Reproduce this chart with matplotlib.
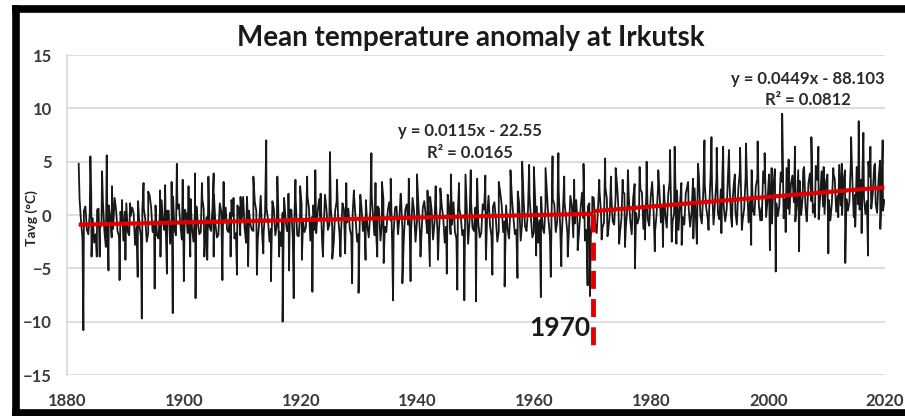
import numpy as np
import matplotlib
matplotlib.use("Agg")
import matplotlib.pyplot as plt
from matplotlib.lines import Line2D

# ---------------- data ----------------
core_start = 1882
# "core band" values, two per year, 1882..2019
core_vals = [
    1.5, -2.2, 0.8, -1.8, 1.9, -2.6, 0.5, -1.2, 1.2, -3.0, 0.9, -2.1, 1.6, -1.5, 0.3, -2.4, 1.1, -1.9, 0.7, -2.8,
    1.3, -2.0, 0.6, -2.5, 1.8, -1.6, 0.9, -2.2, 1.4, -1.4, 0.4, -2.7, 1.7, -1.9, 1.0, -2.3, 0.5, -1.7, 1.5, -2.5,
    0.8, -1.8, 1.6, -2.4, 0.6, -1.5, 1.9, -2.1, 1.1, -2.8, 0.7, -1.6, 1.4, -2.2, 0.9, -1.9, 1.7, -2.6, 0.4, -1.4,
    1.2, -2.3, 1.8, -1.7, 0.6, -2.5, 1.3, -1.9, 0.9, -2.9, 1.6, -1.5, 0.5, -2.2, 1.4, -2.0, 1.0, -1.6, 1.8, -2.4,
    0.9, -1.7, 1.5, -2.3, 1.9, -1.4, 0.7, -2.6, 1.3, -1.8, 1.1, -2.2, 0.6, -1.9, 1.7, -2.5, 1.0, -1.5, 1.4, -2.1,
    1.8, -1.9, 0.8, -2.4, 1.5, -1.6, 1.2, -2.7, 0.7, -1.8, 1.9, -2.2, 1.0, -1.5, 1.6, -2.5, 0.9, -2.0, 1.3, -1.7,
    1.7, -2.3, 1.1, -1.6, 0.8, -2.6, 1.9, -1.8, 1.2, -2.2, 0.6, -1.9, 1.6, -2.7, 1.3, -1.5, 2.0, -2.1, 1.0, -1.8,
    1.8, -2.0, 1.2, -2.5, 2.1, -1.6, 0.9, -2.2, 1.6, -1.8, 2.2, -2.4, 1.4, -1.5, 1.9, -2.1, 1.1, -2.6, 1.7, -1.7,
    2.0, -2.0, 1.5, -1.6, 2.3, -2.3, 1.2, -1.8, 1.8, -2.1, 1.4, -1.5, 2.1, -2.4, 0.8, -2.0, 1.6, -1.7, 2.2, -1.2,
    2.6, -1.4, 1.9, -0.9, 2.8, -1.6, 2.2, -1.1, 1.7, -1.8, 2.9, -0.8, 2.4, -1.3, 2.0, -1.0, 3.1, -1.5, 2.5, -0.7,
    2.8, -1.2, 3.2, -0.6, 2.3, -1.4, 3.0, -0.9, 2.7, -1.1, 3.4, -0.5, 3.6, -0.8, 2.9, -0.3, 3.8, -0.9, 3.3, -0.4,
    3.5, -0.6, 3.9, -0.2, 3.1, -0.9, 4.0, -0.4, 3.6, -0.7, 4.2, 0.0, 3.4, -0.5, 4.1, -0.2, 3.8, -0.8, 4.3, -0.1,
    4.0, -0.3, 4.4, 0.1, 3.7, -0.6, 4.2, 0.0, 4.5, -0.2, 3.9, 0.2, 4.6, -0.4, 4.1, 0.1, 3.8, -0.5, 4.4, 0.3,
    4.7, 0.0, 4.2, 0.4, 4.9, -0.2, 4.5, 0.5, 4.3, 0.1, 5.0, 0.6, 4.6, 0.2, 5.1, 0.4,
]
# second set of core-band values, two per year, offset within the year
core2_vals = [
    -0.6, 0.4, -1.4, 0.2, -0.3, -1.8, 0.6, -0.9, -1.5, 0.1, -0.2, -1.3, 0.5, -2.0, -0.8, 0.3, -1.6, -0.1, 0.2, -1.1,
    -1.0, 0.5, -0.4, -1.7, 0.7, -0.6, -1.9, 0.2, -0.5, -1.2, 0.4, -0.3, -1.4, 0.6, -0.9, -1.8, 0.1, -0.4, -1.3, 0.3,
    -0.7, -1.6, 0.5, -0.2, -1.1, 0.6, -0.8, -1.9, 0.3, -0.5, -1.4, 0.2, -0.1, -1.7, 0.7, -0.6, -1.2, 0.4, -0.9, -1.5,
    0.4, -0.7, -1.8, 0.3, -0.4, -1.3, 0.6, -1.0, -1.6, 0.2, -0.3, -1.5, 0.5, -0.8, -1.9, 0.1, -0.6, -1.1, 0.7, -0.2,
    -1.4, 0.3, -0.5, -1.7, 0.6, -0.9, -1.2, 0.4, -0.2, -1.6, 0.5, -0.7, -1.3, 0.2, -0.4, -1.8, 0.7, -0.6, -1.0, 0.3,
    -0.3, -1.5, 0.6, -0.8, -1.1, 0.4, -0.5, -1.7, 0.8, -0.2, -1.3, 0.5, -0.9, -1.4, 0.3, -0.6, -1.6, 0.7, -0.1, -1.2,
    0.5, -0.7, -1.5, 0.8, -0.3, -1.1, 0.6, -0.9, -1.6, 0.4, -0.2, -1.4, 0.9, -0.5, -1.2, 0.7, -0.8, -1.7, 0.5, -0.1,
    -1.0, 0.8, -0.4, -1.5, 0.9, -0.6, -1.3, 0.6, -0.2, -1.4, 1.0, -0.7, -1.1, 0.5, -0.3, -1.6, 0.8, -0.5, -1.2, 0.9,
    -0.4, -1.3, 1.0, -0.6, -1.0, 0.7, -0.2, -1.5, 0.9, -0.8, -1.1, 0.6, -0.3, -1.4, 1.1, -0.5, -0.9, 0.8, 0.2, -0.7,
    1.5, 0.1, -0.6, 1.8, 0.4, -0.3, 2.0, 0.6, -0.5, 1.6, 0.2, -0.2, 2.1, 0.8, -0.4, 1.7, 0.3, 0.0, 2.2, 0.7,
    -0.1, 1.9, 0.5, 0.1, 2.3, 0.9, -0.2, 2.0, 0.6, 0.3, 2.5, 1.0, 0.0, 2.2, 0.7, 0.4, 2.6, 1.1, 0.2, 2.4,
    0.8, 0.5, 2.8, 1.2, 0.3, 2.5, 0.9, 0.6, 2.9, 1.3, 0.4, 2.7, 1.0, 0.7, 3.0, 1.4, 0.5, 2.8, 1.1, 0.8,
    3.1, 1.5, 0.6, 2.9, 1.2, 0.9, 3.2, 1.6, 0.7, 3.0, 1.3, 1.0, 3.3, 1.7, 0.8, 3.1, 1.4, 1.1, 3.4, 1.8,
    0.9, 3.2, 1.5, 1.2, 3.5, 1.9, 1.0, 3.3, 1.6, 1.3, 3.6, 2.0, 1.1, 3.4, 1.7, 1.4,
]

high_t = [1882.0, 1884.0, 1886.0, 1886.8, 1887.7, 1889.4, 1890.8, 1893.1, 1893.9, 1895.9, 1896.8, 1897.9,
          1898.8, 1899.8, 1900.8, 1901.9, 1903.1, 1904.2, 1905.1, 1906.8, 1908.5, 1909.7, 1910.8, 1911.9,
          1914.1, 1916.0, 1917.9, 1919.1, 1919.9, 1921.1, 1922.5, 1923.4, 1925.0, 1926.2, 1927.8, 1929.1,
          1930.2, 1932.1, 1932.8, 1933.9, 1935.4, 1937.1, 1938.5, 1939.9, 1941.7, 1943.1, 1943.9, 1945.7,
          1947.1, 1948.2, 1949.1, 1950.2, 1951.6, 1953.9, 1955.9, 1957.9, 1959.1, 1959.9, 1961.9, 1963.1,
          1964.1, 1965.1, 1966.8, 1968.4, 1969.9, 1971.1, 1972.1, 1973.1, 1973.9, 1975.1, 1976.0, 1978.0,
          1979.2, 1981.2, 1983.2, 1984.0, 1986.3, 1988.0, 1989.1, 1990.3, 1991.2, 1992.3, 1993.3, 1994.3,
          1995.2, 1996.2, 1997.2, 1998.2, 1999.4, 2000.6, 2002.4, 2003.5, 2004.6, 2006.0, 2007.4, 2008.6,
          2009.5, 2011.2, 2012.6, 2014.2, 2015.5, 2016.3, 2017.5, 2018.3, 2019.6]
high_v = [4.8, 5.5, 4.1, 5.6, 2.7, 1.4, 1.1, 3.0, 2.2, 2.3, 2.8, 3.1,
          4.8, 3.3, 2.7, 3.9, 3.0, 3.6, 3.9, 3.1, 1.6, 1.7, 1.7, 3.6,
          7.0, 3.6, 2.0, 3.3, 2.7, 3.6, 4.2, 2.0, 5.9, 3.3, 3.0, 2.3,
          1.9, 5.8, 3.0, 3.1, 3.4, 2.0, 3.4, 3.8, 2.3, 2.7, 2.5, 3.8,
          3.0, 3.8, 4.2, 3.4, 3.7, 3.1, 4.2, 5.0, 4.7, 4.5, 4.4, 5.5,
          5.8, 3.6, 3.3, 4.8, 1.7, 3.3, 5.3, 3.6, 4.4, 3.3, 4.2, 4.5,
          5.0, 4.2, 6.1, 6.4, 3.1, 4.8, 7.0, 7.3, 6.3, 6.4, 6.1, 3.8,
          6.3, 6.7, 4.2, 6.9, 5.8, 4.4, 9.5, 5.2, 6.4, 4.2, 7.3, 6.4,
          4.5, 3.8, 4.8, 7.3, 8.8, 7.7, 6.4, 4.8, 7.0]

low_t = [1882.8, 1884.2, 1885.1, 1885.6, 1887.1, 1889.0, 1890.0, 1892.1, 1892.8, 1895.0, 1896.0, 1897.1,
         1898.1, 1900.0, 1901.1, 1902.0, 1903.5, 1904.0, 1905.1, 1906.6, 1908.0, 1909.1, 1911.0, 1912.5,
         1913.6, 1914.9, 1916.3, 1916.9, 1918.0, 1918.8, 1920.2, 1922.0, 1923.8, 1925.4, 1926.8, 1927.6,
         1928.8, 1929.9, 1931.1, 1933.1, 1934.2, 1935.8, 1937.4, 1938.8, 1940.5, 1942.1, 1943.5, 1945.0,
         1946.8, 1948.0, 1950.0, 1951.7, 1952.8, 1954.9, 1957.1, 1960.3, 1961.1, 1962.8, 1964.6, 1965.7,
         1967.4, 1969.1, 1969.5, 1971.5, 1972.5, 1974.5, 1975.5, 1977.2, 1978.9, 1980.6, 1982.0, 1983.5,
         1984.3, 1985.2, 1987.2, 1987.8, 1989.8, 1992.0, 1993.8, 1995.5, 1997.1, 1998.9, 2000.3, 2001.3,
         2003.0, 2005.3, 2006.6, 2008.0, 2010.3, 2012.0, 2013.2, 2014.9, 2016.0, 2017.1, 2019.2]
low_v = [-10.8, -3.9, -3.9, -3.9, -5.2, -6.1, -4.2, -5.8, -9.7, -6.9, -3.9, -5.5,
         -9.2, -6.2, -3.9, -7.8, -3.9, -4.2, -3.9, -6.1, -3.9, -5.6, -4.8, -5.6,
         -3.6, -6.2, -3.9, -10.0, -5.2, -7.8, -4.2, -7.2, -3.9, -4.1, -3.9, -3.6,
         -6.4, -7.3, -4.2, -3.9, -4.5, -8.0, -6.4, -6.2, -3.9, -4.8, -4.2, -5.5,
         -7.0, -8.0, -8.1, -4.2, -5.6, -6.7, -5.9, -3.8, -7.7, -5.8, -4.8, -3.9,
         -3.3, -6.6, -7.6, -2.3, -2.0, -2.7, -3.0, -5.0, -2.3, -3.4, -3.0, -2.5,
         -2.7, -2.8, -2.2, -2.7, -1.4, -1.7, -1.1, -1.4, -2.8, -0.5, -3.3, -5.3,
         -1.6, -3.4, -0.6, -0.2, -3.6, -0.2, -4.5, -1.1, -1.7, -3.8, -1.3]

# trend lines (as given by the labels on the chart)
trend_slope = [0.0115, 0.0449]
trend_icpt = [-22.55, -88.103]
trend_r2 = ["0.0165", "0.0812"]
trend_from = [1882.0, 1970.0]
trend_to = [1970.0, 2019.9]
break_year = 1970

x_ticks = [1880, 1900, 1920, 1940, 1960, 1980, 2000, 2020]
y_ticks = [-15, -10, -5, 0, 5, 10, 15]

# ---------------- build series ----------------
core_t = core_start + 0.15 + 0.5 * np.arange(len(core_vals))
core2_t = core_start + 0.4 + 0.5 * np.arange(len(core2_vals))
t_all = np.concatenate([core_t, core2_t, high_t, low_t])
v_all = np.concatenate([core_vals, core2_vals, high_v, low_v])
order = np.argsort(t_all, kind="stable")
t_all = t_all[order]
v_all = v_all[order]

# ---------------- figure ----------------
W, H = 905, 416
fig = plt.figure(figsize=(W / 100, H / 100), dpi=100)
ax = fig.add_axes([67 / W, 1 - 375 / H, (885 - 67) / W, (375 - 55) / H])

ax.plot(t_all, v_all, color="#181818", lw=1.3, zorder=3)

for s, b, a0, a1 in zip(trend_slope, trend_icpt, trend_from, trend_to):
    xx = np.array([a0, a1])
    ax.plot(xx, s * xx + b, color="#e00000", lw=3.0, zorder=4, solid_capstyle="butt")

yb = trend_slope[0] * break_year + trend_icpt[0]
ax.plot([break_year, break_year], [yb, -12.5], color="#e00000", lw=3.5,
        dashes=(3.7, 2.1), zorder=5)

ax.set_xlim(1880, 2020)
ax.set_ylim(-15, 15)
ax.set_xticks(x_ticks)
ax.set_yticks(y_ticks)
ax.grid(axis="y", color="#d4d4d4", lw=1.1, zorder=0)
ax.set_axisbelow(True)
for sp in ["top", "right", "bottom"]:
    ax.spines[sp].set_visible(False)
ax.spines["left"].set_color("#d4d4d4")
ax.spines["left"].set_linewidth(1.1)
ax.tick_params(length=0, labelsize=12, labelcolor="#3a3a3a")
ax.tick_params(axis="y", pad=11)
ax.tick_params(axis="x", pad=13)
for lab in ax.get_xticklabels() + ax.get_yticklabels():
    lab.set_fontfamily("Lato")
    lab.set_fontweight("bold")

fig.text(32 / W, 1 - 218 / H, "Tavg (°C)", rotation=90, ha="center", va="center",
         fontsize=10, fontweight="bold", family="Lato", color="#222222")

fig.text(471 / W, 1 - 38 / H, "Mean temperature anomaly at Irkutsk", ha="center",
         va="center", fontsize=20, fontweight="bold", family="Lato", color="#1a1a1a")

eq_pos = [(470, 131, 153), (808, 79, 100)]
for (cx, y1, y2), s, b, r2 in zip(eq_pos, trend_slope, trend_icpt, trend_r2):
    fig.text(cx / W, 1 - y1 / H, f"y = {s}x - {abs(b)}", ha="center", va="center",
             fontsize=12, fontweight="bold", family="Lato", color="#2a2a2a")
    fig.text(cx / W, 1 - y2 / H, f"R² = {r2}", ha="center", va="center",
             fontsize=12, fontweight="bold", family="Lato", color="#2a2a2a")

ax.text(1964.3, -10.6, str(break_year), ha="center", va="center", fontsize=19,
        fontweight="bold", family="Lato", color="#1a1a1a", zorder=6)

# thick outer frame (left, top, bottom)
fx = 16 / W
fy_top = 1 - 9 / H
fy_bot = 1 - 413 / H
for xs, ys in [([fx, fx], [fy_bot, fy_top]), ([fx, 1.01], [fy_top, fy_top]),
               ([fx, 1.01], [fy_bot, fy_bot])]:
    fig.add_artist(Line2D(xs, ys, transform=fig.transFigure, color="black",
                          lw=5.5, solid_capstyle="projecting", zorder=10))

fig.savefig("out.png", dpi=100)
